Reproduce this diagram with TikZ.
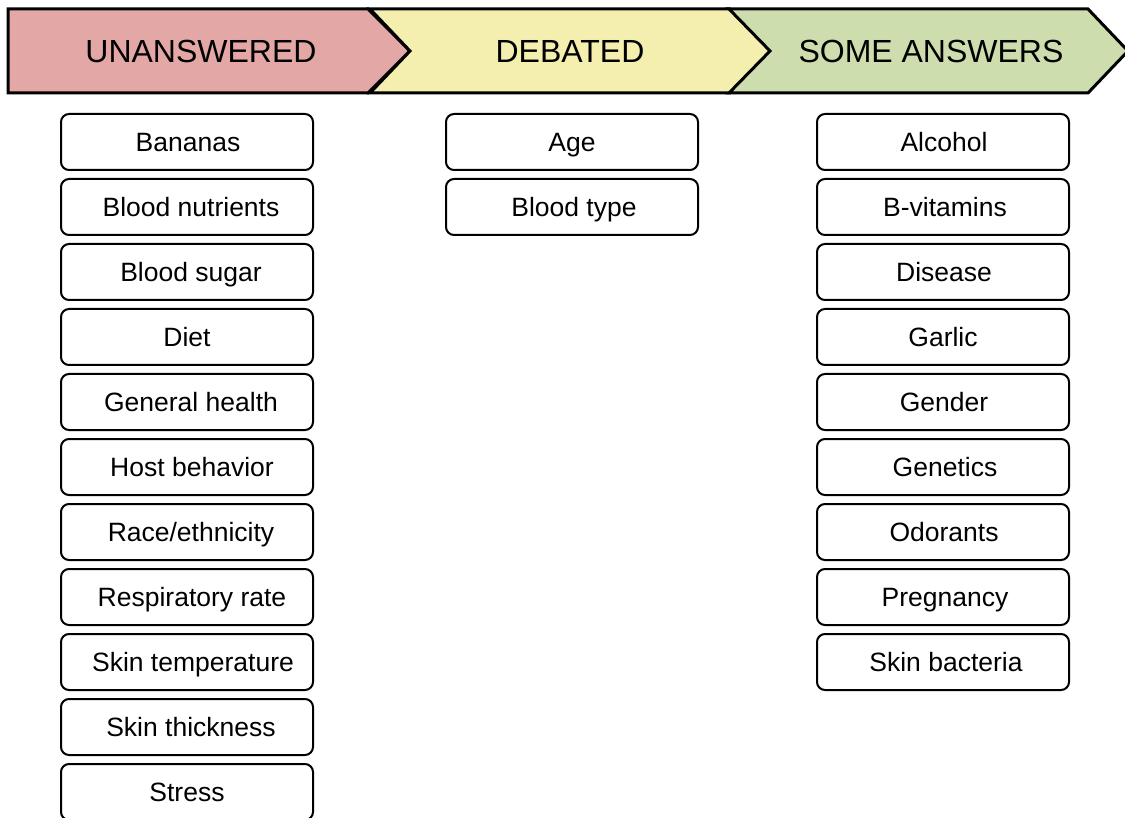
\documentclass[tikz,border=0pt]{standalone}
\usepackage{fontspec}
\setmainfont{Liberation Sans}
\definecolor{cred}{HTML}{E3A7A6}
\definecolor{cyellow}{HTML}{F4EFAF}
\definecolor{cgreen}{HTML}{CDDDAD}
\begin{document}
\begin{tikzpicture}[x=1pt,y=-1pt,
  chev/.style={draw=black,line width=3pt,line join=miter},
  band/.style={font=\fontsize{32}{36}\selectfont,inner sep=0pt,text height=23pt,text depth=0pt},
  item/.style={draw=black,line width=2pt,rounded corners=8pt,minimum width=252pt,minimum height=56pt,fill=white},
  lbl/.style={font=\fontsize{26.5}{30}\selectfont,inner sep=0pt,text height=19pt,text depth=0pt}]
\useasboundingbox (0,0) rectangle (1125,818);
\fill[white] (0,0) rectangle (1125,818);
% chevrons
\draw[chev,fill=cred] (8,9) -- (368,9) -- (410,51) -- (368,93) -- (8,93) -- cycle;
\draw[chev,fill=cyellow] (370,9) -- (730,9) -- (772,51) -- (730,93) -- (370,93) -- (410,51) -- cycle;
\draw[chev,fill=cgreen] (729,9) -- (1088,9) -- (1128,51) -- (1088,93) -- (729,93) -- (770,51) -- cycle;
\node[band] (h1) at (201,51) {UNANSWERED};
\node[band] (h2) at (570,51) {DEBATED};
\node[band] (h3) at (931,51) {SOME ANSWERS};
% left column
\foreach \t/\dx [count=\i from 0] in {Bananas/1,Blood nutrients/4,Blood sugar/4,Diet/0,General health/4,Host behavior/5,{Race/ethnicity}/4,Respiratory rate/5,Skin temperature/6,Skin thickness/4,Stress/0}{
  \node[item] (u\i) at (187,{142+65*\i}) {};
  \node[lbl] (ut\i) at ([xshift=\dx pt]u\i.center) {\t};
}
% middle column
\node[item] (d0) at (572,142) {};
\node[lbl] (dt0) at (d0.center) {Age};
\node[item] (d1) at (572,207) {};
\node[lbl] (dt1) at ([xshift=2pt]d1.center) {Blood type};
% right column
\foreach \t/\dx [count=\i from 0] in {Alcohol/1,B-vitamins/2,Disease/1,Garlic/0,Gender/1,Genetics/2,Odorants/1,Pregnancy/2,Skin bacteria/3}{
  \node[item] (s\i) at (943,{142+65*\i}) {};
  \node[lbl] (st\i) at ([xshift=\dx pt]s\i.center) {\t};
}
\end{tikzpicture}
\end{document}
